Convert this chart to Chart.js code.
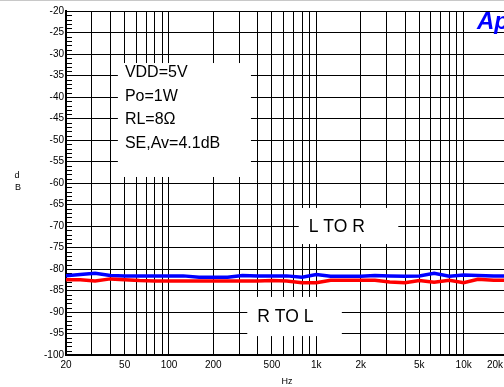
<!DOCTYPE html>
<html>
<head>
<meta charset="utf-8">
<script src="https://cdn.jsdelivr.net/npm/chart.js@4"></script>
<style>
  html, body { margin: 0; padding: 0; background: #fff; overflow: hidden; width: 504px; height: 387px; }
  canvas { display: block; }
</style>
</head>
<body>
<canvas id="c" width="512" height="387"></canvas>
<script>
// ---- data ----
const freqs = [20, 25, 31.5, 40, 50, 63, 80, 100, 125, 160, 200, 250, 315, 400, 500, 630, 800, 1000, 1250, 1600, 2000, 2500, 3150, 4000, 5000, 6300, 8000, 10000, 12500, 16000, 20000];
const lToR  = [-81.6, -81.3, -81.0, -81.5, -81.6, -81.6, -81.6, -81.6, -81.6, -81.9, -81.9, -81.9, -81.5, -81.6, -81.6, -81.6, -81.9, -81.3, -81.7, -81.7, -81.7, -81.5, -81.6, -81.7, -81.6, -81.0, -81.7, -81.4, -81.5, -81.6, -81.6];
const rToL  = [-82.5, -82.5, -82.8, -82.3, -82.5, -82.7, -82.8, -82.8, -82.8, -82.8, -82.8, -82.8, -82.8, -82.8, -82.7, -82.8, -83.2, -83.2, -82.6, -82.6, -82.6, -82.6, -83.0, -83.2, -82.7, -83.1, -82.6, -83.2, -82.4, -82.6, -82.6];
const xTickValues = [20, 50, 100, 200, 500, 1000, 2000, 5000, 10000, 20000];
const xTickLabels = ['20', '50', '100', '200', '500', '1k', '2k', '5k', '10k', '20k'];
const yTickValues = [-100, -95, -90, -85, -80, -75, -70, -65, -60, -55, -50, -45, -40, -35, -30, -25, -20];
const yTickLabels = ['-100', '-95', '-90', '-85', '-80', '-75', '-70', '-65', '-60', '-55', '-50', '-45', '-40', '-35', '-30', '-25', '-20'];
const noteSpec = ['VDD=5V', 'Po=1W', 'RL=8\u03A9', 'SE,Av=4.1dB'];
const noteL = 'L TO R';
const noteR = 'R TO L';

// ---- layout helpers ----
const FONT = "'Liberation Sans', Arial, Helvetica, sans-serif";
const gridFreqs = [];
for (let dec = 10; dec <= 10000; dec *= 10) {
  for (let m = 1; m <= 9; m++) {
    const v = m * dec;
    if (v >= 20 && v <= 20000) gridFreqs.push(v);
  }
}
gridFreqs.push(20000);

// boxes in data coordinates: [fLeft, fRight], [dbTop, dbBottom]
const boxes = [
  { f: [45, 360], db: [-32.1, -58.6], lines: noteSpec, size: 16, dx: 7, firstBase: 14, step: 23.5 },
  { f: [760, 3600], db: [-65.8, -74.2], lines: [noteL], size: 17.5, dx: 10, firstBase: 24, step: 0 },
  { f: [340, 1490], db: [-86.5, -95.6], lines: [noteR], size: 17.5, dx: 10, firstBase: 25, step: 0 }
];

const overlay = {
  id: 'overlay',
  beforeDatasetsDraw(chart) {
    const { ctx, chartArea, scales: { x, y } } = chart;
    ctx.save();
    // minor y ticks (every 1 dB)
    ctx.strokeStyle = '#000';
    ctx.lineWidth = 1;
    for (let v = -99; v < -20; v++) {
      if (v % 5 === 0) continue;
      const py = Math.round(y.getPixelForValue(v)) + 0.5;
      ctx.beginPath();
      ctx.moveTo(chartArea.left, py);
      ctx.lineTo(chartArea.left + 6, py);
      ctx.stroke();
    }
    // white note boxes
    boxes.forEach(b => {
      const x0 = x.getPixelForValue(b.f[0]);
      const x1 = x.getPixelForValue(b.f[1]);
      const y0 = y.getPixelForValue(b.db[0]);
      const y1 = y.getPixelForValue(b.db[1]);
      ctx.fillStyle = '#fff';
      ctx.fillRect(x0, y0, x1 - x0, y1 - y0);
      ctx.fillStyle = '#000';
      ctx.font = b.size + 'px ' + FONT;
      ctx.textAlign = 'left';
      ctx.textBaseline = 'alphabetic';
      b.lines.forEach((t, i) => ctx.fillText(t, x0 + b.dx, y0 + b.firstBase + i * b.step));
    });
    ctx.restore();
  },
  afterDraw(chart) {
    const { ctx } = chart;
    ctx.save();
    // frame line at very top
    ctx.strokeStyle = '#c8c8c8';
    ctx.lineWidth = 1;
    ctx.beginPath(); ctx.moveTo(0, 0.5); ctx.lineTo(512, 0.5); ctx.stroke();
    // y-axis title, stacked letters
    ctx.fillStyle = '#000';
    ctx.font = '9px ' + FONT;
    ctx.textAlign = 'center';
    ctx.textBaseline = 'middle';
    ctx.fillText('d', 17, 176);
    ctx.fillText('B', 18, 188);
    // last x label, kept inside the visible picture
    ctx.font = '10px ' + FONT;
    ctx.fillText(xTickLabels[xTickLabels.length - 1], 495, 365);
    // logo
    ctx.fillStyle = '#0000ff';
    ctx.font = 'italic bold 24px ' + FONT;
    ctx.textAlign = 'left';
    ctx.textBaseline = 'alphabetic';
    ctx.fillText('Ap', 477, 29);
    ctx.restore();
  }
};

new Chart(document.getElementById('c'), {
  type: 'line',
  data: {
    datasets: [
      { label: 'R TO L', data: freqs.map((f, i) => ({ x: f, y: rToL[i] })), borderColor: '#ff0000', backgroundColor: '#ff0000', borderWidth: 3.5 },
      { label: 'L TO R', data: freqs.map((f, i) => ({ x: f, y: lToR[i] })), borderColor: '#0000ff', backgroundColor: '#0000ff', borderWidth: 3.5 }
    ]
  },
  options: {
    responsive: false,
    animation: false,
    layout: { padding: { left: 0, top: 11, right: 4, bottom: 0 } },
    plugins: { legend: { display: false }, tooltip: { enabled: false } },
    elements: { point: { radius: 0 }, line: { tension: 0 } },
    scales: {
      x: {
        type: 'logarithmic',
        min: 20, max: 20000,
        afterBuildTicks: s => { s.ticks = gridFreqs.map(v => ({ value: v })); },
        afterFit: s => { s.height = 32; },
        grid: { color: '#000', lineWidth: 1, drawTicks: false },
        border: { color: '#000', width: 2 },
        ticks: {
          autoSkip: false, maxRotation: 0, minRotation: 0, padding: 4,
          color: '#000', font: { family: FONT, size: 10 },
          callback: v => {
            const i = xTickValues.indexOf(v);
            return (i >= 0 && i < xTickValues.length - 1) ? xTickLabels[i] : '';
          }
        },
        title: { display: true, text: 'Hz', color: '#000', font: { family: FONT, size: 9 }, padding: 0 }
      },
      y: {
        min: -100, max: -20,
        afterBuildTicks: s => { s.ticks = yTickValues.map(v => ({ value: v })); },
        afterFit: s => { s.width = 66; },
        grid: { color: '#000', lineWidth: 1, drawTicks: false },
        border: { color: '#000', width: 2 },
        ticks: {
          autoSkip: false, padding: 2, color: '#000', font: { family: FONT, size: 10 },
          callback: v => { const i = yTickValues.indexOf(v); return i >= 0 ? yTickLabels[i] : ''; }
        }
      }
    }
  },
  plugins: [overlay]
});
</script>
</body>
</html>
